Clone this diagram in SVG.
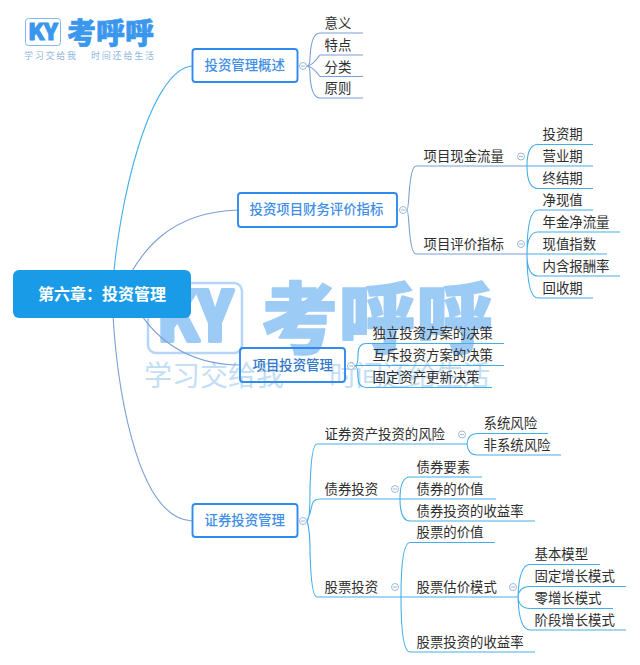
<svg xmlns="http://www.w3.org/2000/svg" width="640" height="665" viewBox="0 0 640 665">
<style>
text{font-family:"Noto Sans CJK SC","Noto Sans",sans-serif}
.t{font-size:13.4px;fill:#2e2e2e}
.b{font-size:13.4px;fill:#3f8fe6;font-weight:500}
.box{fill:#fff;stroke:#2f8cee;stroke-width:1.900}
.c{fill:none;stroke:#45aeea;stroke-width:1.100}
.m{fill:none;stroke:#7a9fd6;stroke-width:1.100}
.o{fill:#fff;stroke:#9fb8d8;stroke-width:1}
.d{stroke:#9fb8d8;stroke-width:1}
.wm{fill:#9ccbf5;stroke:#9ccbf5;stroke-linejoin:round}
.lg{fill:#3a97ee;stroke:#3a97ee;stroke-linejoin:round}
</style>
<defs>
<g id="col"><circle r="3.5" class="o"/><line x1="-2" x2="2" class="d"/></g>
</defs>
<rect width="640" height="665" fill="#fff"/>
<g id="logo">
<rect x="25.500" y="18.500" width="35" height="27" rx="3" fill="none" stroke="#7fb8f0"/>
<text x="43" y="40" text-anchor="middle" font-size="23" font-weight="900" class="lg" stroke-width="1" textLength="30" lengthAdjust="spacingAndGlyphs">KY</text>
<text x="67" y="44" font-size="29" font-weight="900" class="lg" stroke-width="0.600" textLength="87">考呼呼</text>
<text x="24" y="59" font-size="9" fill="#8fb8e2" textLength="52">学习交给我</text>
<text x="91" y="59" font-size="9" fill="#8fb8e2" textLength="63">时间还给生活</text>
</g>
<g id="watermark">
<rect x="148" y="283" width="94" height="70" rx="8" fill="none" stroke="#b5d6f6" stroke-width="2.500"/>
<text x="195" y="341" text-anchor="middle" font-size="68" font-weight="900" class="wm" stroke-width="4" textLength="76" lengthAdjust="spacingAndGlyphs">KY</text>
<text x="261" y="347" font-size="77" font-weight="900" class="wm" stroke-width="1.500" textLength="232">考呼呼</text>
<text x="144" y="386" font-size="28" fill="#c4def6" textLength="140">学习交给我</text>
<text x="329" y="386" font-size="28" fill="#c4def6" textLength="161">时间还给生活</text>
</g>
<g id="connectors">
<path class="c" d="M112,294C118,200 150,70 192,66"/>
<path class="m" d="M120,294C140,250 170,212 238,210"/>
<path class="m" d="M130,294C150,340 190,365 240,365"/>
<path class="m" d="M112,294C115,380 135,518 192,521"/>
<path class="m" d="M307,66Q310,66 310,58Q311,33 320,33H363M307,66Q312,66 320,55H363M307,66Q312,66 320,76.500H363M307,66Q310,66 310,74Q311,98 320,98H363"/>
<path class="m" d="M407,210Q408,210 409,195Q411,166 416,166H527M407,210Q408,210 409,225Q411,254 416,254H527"/>
<path class="c" d="M527,166Q527,144.500 538,144.500H593M527,166H593M527,166Q527,188.500 538,188.500H593"/>
<path class="c" d="M527,254Q527,210 538,210H593M527,254Q527,232 538,232H620M527,254H607M527,254Q527,276 538,276H620M527,254Q527,298 538,298H593"/>
<path class="c" d="M355,366Q358,366 358,355Q358,343.500 366,343.500H504M355,365.500H504M355,366Q358,366 358,377Q358,387.500 366,387.500H492"/>
<path class="c" d="M307,521Q310,521 310,490Q311,444 317,444H467M307,521Q310,515 312,505Q313,499 320,499H400M307,521Q310,530 310,550Q311,597 317,597H401"/>
<path class="c" d="M467,444Q468,433.500 477,433.500H548M467,444Q468,455 477,455H561"/>
<path class="c" d="M400,499Q400,477 410,477H482M400,499H496M400,499Q400,521 410,521H535"/>
<path class="c" d="M401,597Q401,542.500 410,542.500H495M401,597H519M401,597Q401,652 410,652H535"/>
<path class="c" d="M518,597Q519,564.500 530,564.500H600M518,597Q519,586.500 530,586.500H626M518,597Q519,608.500 530,608.500H613M518,597Q519,630 530,630H626"/>
</g>
<g id="root"><rect x="13" y="270" width="178" height="48" rx="6" fill="#1a9be8"/><text x="38" y="300" font-size="16" font-weight="700" fill="#fff">第六章：投资管理</text></g>
<g id="n1"><rect class="box" x="192.500" y="49" width="105" height="33" rx="3"/><text class="b" x="204.500" y="70">投资管理概述</text><use href="#col" x="303" y="66"/></g>
<g id="n2"><rect class="box" x="238" y="193" width="159" height="34" rx="3"/><text class="b" x="249.500" y="214">投资项目财务评价指标</text><use href="#col" x="403" y="210"/></g>
<g id="n3"><rect x="240" y="348" width="105" height="34" rx="3" fill="none" stroke="#2f8cee" stroke-width="1.900"/><text class="b" x="252.500" y="370" style="fill:#3378c8">项目投资管理</text><use href="#col" x="351" y="366"/></g>
<g id="n4"><rect class="box" x="192.500" y="504" width="105" height="33" rx="3"/><text class="b" x="204.500" y="525">证券投资管理</text><use href="#col" x="303" y="521"/></g>
<g id="leaves1"><text class="t" x="324.500" y="28">意义</text><text class="t" x="324.500" y="50">特点</text><text class="t" x="324.500" y="71.500">分类</text><text class="t" x="324.500" y="93">原则</text></g>
<g id="cash"><text class="t" x="423.500" y="161">项目现金流量</text><use href="#col" x="521" y="156.500"/>
<text class="t" x="542.500" y="139">投资期</text><text class="t" x="542.500" y="161">营业期</text><text class="t" x="542.500" y="183">终结期</text></g>
<g id="eval"><text class="t" x="423.500" y="249">项目评价指标</text><use href="#col" x="521" y="244"/>
<text class="t" x="542.500" y="205">净现值</text><text class="t" x="542.500" y="227">年金净流量</text><text class="t" x="542.500" y="249">现值指数</text><text class="t" x="542.500" y="271">内含报酬率</text><text class="t" x="542.500" y="292.500">回收期</text></g>
<g id="proj"><text class="t" x="372.500" y="338">独立投资方案的决策</text><text class="t" x="372.500" y="360">互斥投资方案的决策</text><text class="t" x="372.500" y="382">固定资产更新决策</text></g>
<g id="risk"><text class="t" x="324.500" y="439">证券资产投资的风险</text><use href="#col" x="462" y="434.500"/><text class="t" x="483.500" y="428">系统风险</text><text class="t" x="483.500" y="450">非系统风险</text></g>
<g id="bond"><text class="t" x="324.500" y="494">债券投资</text><use href="#col" x="395" y="489"/><text class="t" x="416.500" y="472">债券要素</text><text class="t" x="416.500" y="494">债券的价值</text><text class="t" x="416.500" y="516">债券投资的收益率</text></g>
<g id="stock"><text class="t" x="324.500" y="592">股票投资</text><use href="#col" x="395" y="587"/><text class="t" x="416.500" y="537">股票的价值</text><text class="t" x="416.500" y="592">股票估价模式</text><text class="t" x="416.500" y="647">股票投资的收益率</text><use href="#col" x="513" y="587"/>
<text class="t" x="534.500" y="559">基本模型</text><text class="t" x="534.500" y="581">固定增长模式</text><text class="t" x="534.500" y="603">零增长模式</text><text class="t" x="534.500" y="625">阶段增长模式</text></g>
</svg>
